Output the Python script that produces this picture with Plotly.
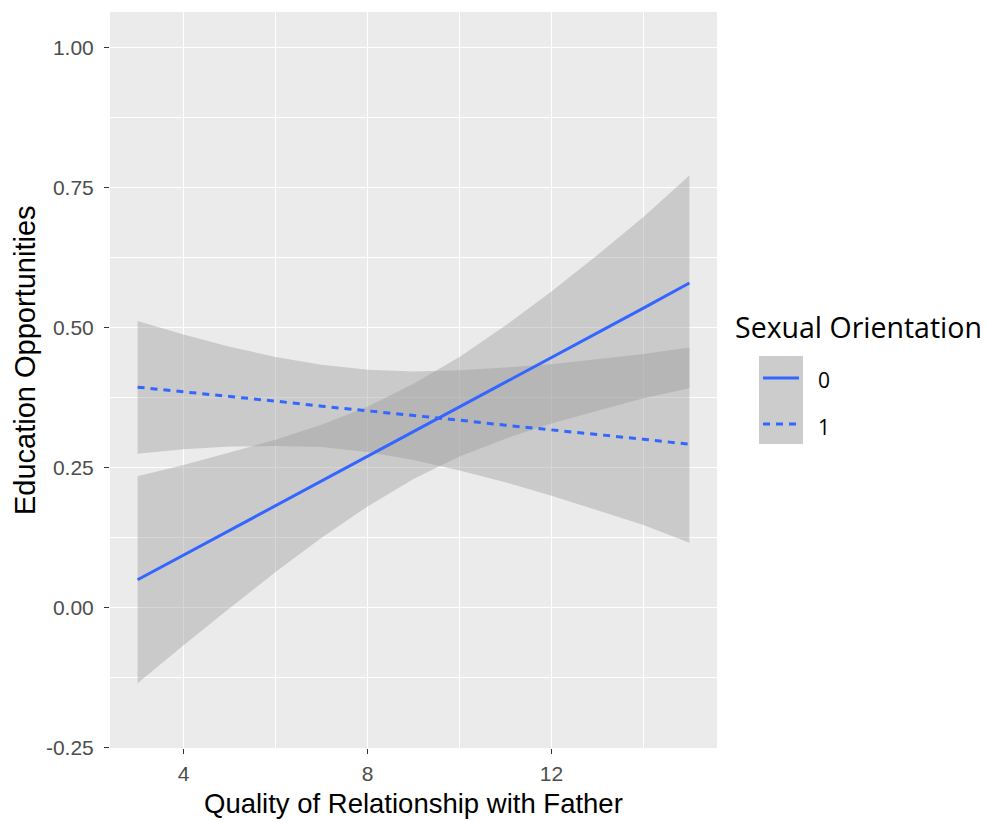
import plotly.graph_objects as go

# Quality of relationship with father (x) and fitted education opportunities
x_vals = [3, 4, 5, 6, 7, 8, 9, 10, 11, 12, 13, 14, 15]

# Group 0 (solid): fitted line and 95% confidence band
fit_0 = [0.050, 0.094, 0.138, 0.182, 0.226, 0.270, 0.315, 0.359, 0.403, 0.447, 0.491, 0.535, 0.580]
lower_0 = [-0.135, -0.067, -0.001, 0.064, 0.125, 0.181, 0.230, 0.270, 0.302, 0.329, 0.352, 0.374, 0.392]
upper_0 = [0.235, 0.255, 0.277, 0.300, 0.327, 0.359, 0.400, 0.448, 0.504, 0.565, 0.630, 0.698, 0.772]

# Group 1 (dashed): fitted line and 95% confidence band
fit_1 = [0.394, 0.386, 0.377, 0.369, 0.360, 0.352, 0.343, 0.335, 0.326, 0.318, 0.309, 0.301, 0.292]
lower_1 = [0.275, 0.283, 0.288, 0.289, 0.287, 0.278, 0.264, 0.245, 0.224, 0.200, 0.174, 0.148, 0.116]
upper_1 = [0.512, 0.488, 0.466, 0.448, 0.434, 0.425, 0.422, 0.424, 0.429, 0.435, 0.444, 0.453, 0.465]

group_labels = ["0", "1"]
x_ticks = [4, 8, 12]
y_ticks = [-0.25, 0.0, 0.25, 0.50, 0.75, 1.00]
y_tick_text = ["-0.25", "0.00", "0.25", "0.50", "0.75", "1.00"]

W, H = 987, 821
ML, MR, MT, MB = 110, 270, 12, 73
PW, PH = W - ML - MR, H - MT - MB

LINE_BLUE = "#3366FF"
BAND_FILL = "rgba(153,153,153,0.4)"
LINE_W = 3.0


def px(xp):
    return (xp - ML) / PW


def py(yp):
    return (H - MB - yp) / PH


fig = go.Figure()

for lo, up in [(lower_0, upper_0), (lower_1, upper_1)]:
    fig.add_trace(go.Scatter(
        x=x_vals + x_vals[::-1],
        y=lo + up[::-1],
        fill="toself",
        fillcolor=BAND_FILL,
        line=dict(width=0),
        mode="lines",
        hoverinfo="skip",
        showlegend=False,
    ))

fig.add_trace(go.Scatter(x=x_vals, y=fit_0, mode="lines",
                         line=dict(color=LINE_BLUE, width=LINE_W),
                         name=group_labels[0], showlegend=False))
fig.add_trace(go.Scatter(x=x_vals, y=fit_1, mode="lines",
                         line=dict(color=LINE_BLUE, width=LINE_W, dash="7px,6px"),
                         name=group_labels[1], showlegend=False))

tick_font = dict(family="Liberation Sans, Arial, sans-serif", size=21, color="#4D4D4D")
legend_font = "Open Sans, Segoe UI, sans-serif"

fig.update_layout(
    width=W, height=H,
    margin=dict(l=ML, r=MR, t=MT, b=MB, pad=0),
    paper_bgcolor="white",
    plot_bgcolor="#EBEBEB",
    showlegend=False,
    xaxis=dict(
        range=[2.4, 15.6],
        tickvals=x_ticks,
        tickfont=tick_font,
        ticks="outside", ticklen=5, tickwidth=1.1, tickcolor="#333333",
        showgrid=True, gridcolor="white", gridwidth=1.4,
        minor=dict(tickvals=[6, 10, 14], showgrid=True, gridcolor="white", gridwidth=0.7, ticks=""),
        zeroline=False, showline=False,
        ticklabelstandoff=2,
    ),
    yaxis=dict(
        range=[-0.2505, 1.064],
        tickvals=y_ticks,
        ticktext=y_tick_text,
        tickfont=tick_font,
        ticks="outside", ticklen=5, tickwidth=1.1, tickcolor="#333333",
        showgrid=True, gridcolor="white", gridwidth=1.4,
        minor=dict(tickvals=[-0.125, 0.125, 0.375, 0.625, 0.875], showgrid=True,
                   gridcolor="white", gridwidth=0.7, ticks=""),
        zeroline=False, showline=False,
        ticklabelstandoff=6,
    ),
)

# Axis titles
fig.add_annotation(text="Quality of Relationship with Father", xref="paper", yref="paper",
                   x=px(413.5), y=py(803), xanchor="center", yanchor="middle",
                   showarrow=False,
                   font=dict(family="Liberation Sans, Arial, sans-serif", size=27.5, color="#000000"))
fig.add_annotation(text="Education Opportunities", xref="paper", yref="paper",
                   x=px(25), y=py(360), xanchor="center", yanchor="middle",
                   textangle=-90, showarrow=False,
                   font=dict(family="Liberation Sans, Arial, sans-serif", size=29, color="#000000"))

# Legend drawn by hand: title, grey key background, line samples and labels
fig.add_annotation(text="Sexual Orientation", xref="paper", yref="paper",
                   x=px(733), y=py(327), xanchor="left", yanchor="middle",
                   showarrow=False, font=dict(family=legend_font, size=28.5, color="#000000"))
fig.add_shape(type="rect", xref="paper", yref="paper",
              x0=px(759), x1=px(803), y0=py(356), y1=py(444),
              fillcolor="#CCCCCC", line=dict(width=0), layer="above")
fig.add_shape(type="line", xref="paper", yref="paper",
              x0=px(763), x1=px(799), y0=py(378), y1=py(378),
              line=dict(color=LINE_BLUE, width=LINE_W), layer="above")
fig.add_shape(type="line", xref="paper", yref="paper",
              x0=px(763), x1=px(799), y0=py(424), y1=py(424),
              line=dict(color=LINE_BLUE, width=LINE_W, dash="7px,6px"), layer="above")
for label, yp in zip(group_labels, [380, 427]):
    fig.add_annotation(text=label, xref="paper", yref="paper",
                       x=px(816), y=py(yp), xanchor="left", yanchor="middle",
                       showarrow=False, font=dict(family=legend_font, size=21, color="#000000"))

fig.write_html("out.html")
